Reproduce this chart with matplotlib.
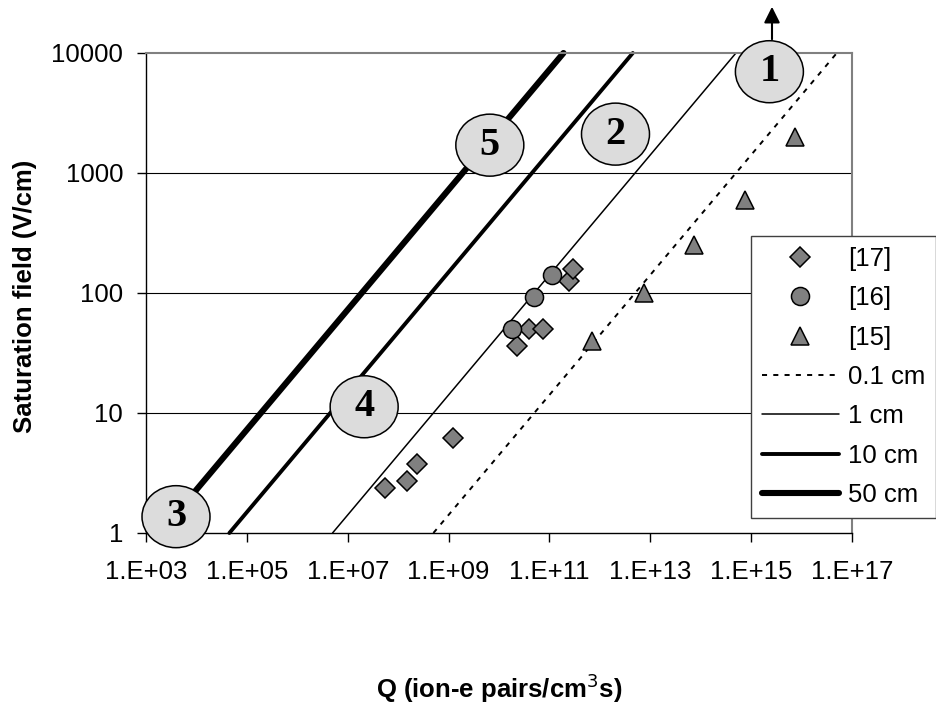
import matplotlib
matplotlib.use("Agg")
import matplotlib.pyplot as plt
from matplotlib.patches import Ellipse, FancyArrowPatch

plt.rcParams['font.family'] = ['Liberation Sans', 'DejaVu Sans']

# ---- data ----
ref17_Q = [5.5e7, 1.5e8, 2.4e8, 1.2e9, 2.3e10, 4.0e10, 7.5e10, 2.4e11, 3.0e11]
ref17_E = [2.35, 2.7, 3.75, 6.2, 36, 50, 50, 125, 157]
ref16_Q = [1.8e10, 5.0e10, 1.1e11]
ref16_E = [50, 93, 141]
ref15_Q = [7.0e11, 7.5e12, 7.5e13, 7.5e14, 7.5e15]
ref15_E = [40, 100, 250, 600, 2000]

gap_labels = ['0.1 cm', '1 cm', '10 cm', '50 cm']
gap_Q_start = [5.0e8, 5.0e6, 4.5e4, 1.9e3]      # Q where field = 1 V/cm
gap_Q_end = [5.0e16, 5.0e14, 4.5e12, 1.9e11]    # Q where field = 10000 V/cm
gap_E_ends = [1, 10000]

xtick_vals = [1e3, 1e5, 1e7, 1e9, 1e11, 1e13, 1e15, 1e17]
xtick_labels = ['1.E+03', '1.E+05', '1.E+07', '1.E+09', '1.E+11', '1.E+13', '1.E+15', '1.E+17']
ytick_vals = [1, 10, 100, 1000, 10000]
ytick_labels = ['1', '10', '100', '1000', '10000']

region_labels = ['1', '2', '3', '4', '5']

# ---- figure ----
W, H = 936, 712
fig = plt.figure(figsize=(W / 100, H / 100), dpi=100)
L, R, T, B = 146, 852, 53, 533
ax = fig.add_axes([L / W, (H - B) / H, (R - L) / W, (B - T) / H])
ax.set_xscale('log')
ax.set_yscale('log')
ax.set_xlim(1e3, 1e17)
ax.set_ylim(1, 10000)

# grid lines (horizontal only)
for yv in [10, 100, 1000]:
    ax.axhline(yv, color='black', lw=0.8, zorder=1)

line_styles = [
    dict(color='black', lw=1.4, linestyle=(0, (2.6, 3.2)), dash_capstyle='butt'),
    dict(color='black', lw=1.1, solid_capstyle='round'),
    dict(color='black', lw=2.8, solid_capstyle='round'),
    dict(color='black', lw=4.4, solid_capstyle='round'),
]
line_handles = []
for lab, q0, q1, st in zip(gap_labels, gap_Q_start, gap_Q_end, line_styles):
    h, = ax.plot([q0, q1], gap_E_ends, label=lab, zorder=2, **st)
    h.set_clip_on(False)
    line_handles.append(h)

mk = dict(markerfacecolor='#808080', markeredgecolor='black', markeredgewidth=1.1,
          linestyle='none', zorder=3)
h17, = ax.plot(ref17_Q, ref17_E, marker='D', markersize=9.8, label='[17]', **mk)
h16, = ax.plot(ref16_Q, ref16_E, marker='o', markersize=13, label='[16]', **mk)
h15, = ax.plot(ref15_Q, ref15_E, marker='^', markersize=13.5, label='[15]', **mk)

# axes styling
for s in ['top', 'right']:
    ax.spines[s].set_color('#808080')
    ax.spines[s].set_linewidth(1.5)
for s in ['left', 'bottom']:
    ax.spines[s].set_color('black')
    ax.spines[s].set_linewidth(1.0)

ax.set_xticks(xtick_vals)
ax.set_xticklabels(xtick_labels)
ax.set_yticks(ytick_vals)
ax.set_yticklabels(ytick_labels)
ax.minorticks_off()
ax.tick_params(axis='both', direction='out', length=6.5, width=1.0, labelsize=18.5, colors='black')
ax.tick_params(axis='y', pad=10)
ax.tick_params(axis='x', pad=13)

# region labels (ellipses)
ell_pos = [(0.883, 0.961), (0.665, 0.831), (0.0425, 0.034), (0.309, 0.263), (0.487, 0.808)]
ew, eh = 68 / (R - L), 62 / (B - T)
for lab, (cx, cy) in zip(region_labels, ell_pos):
    e = Ellipse((cx, cy), ew, eh, transform=ax.transAxes, facecolor='#dcdcdc',
                edgecolor='black', lw=1.1, zorder=5, clip_on=False)
    ax.add_patch(e)
    ax.text(cx, cy, lab, transform=ax.transAxes, ha='center', va='center',
            fontsize=29, fontweight='bold', family='Liberation Serif', zorder=6)

# arrow above label 1
fig.patches.append(FancyArrowPatch(
    (772 / W, (H - 42) / H), (772 / W, (H - 4) / H), transform=fig.transFigure,
    arrowstyle='-|>', mutation_scale=24, lw=1.5, color='black'))

# legend
leg = ax.legend(handles=[h17, h16, h15] + line_handles, loc='upper left',
                bbox_to_anchor=(751 / W, (H - 236) / H), bbox_transform=fig.transFigure,
                borderaxespad=0, fontsize=18.5, handlelength=3.0, handletextpad=0.35,
                labelspacing=0.6, borderpad=0.42, frameon=True, fancybox=False,
                framealpha=1, edgecolor='#404040', numpoints=1)
leg.get_frame().set_linewidth(1.0)
leg.set_zorder(10)

fig.text((L + R) / 2 / W, (H - 688) / H, 'Q (ion-e pairs/cm$^3$s)', ha='center', va='center',
         fontsize=18.5, fontweight='bold')
fig.text(25 / W, (H - 296) / H, 'Saturation field (V/cm)', ha='center', va='center',
         rotation=90, fontsize=18.5, fontweight='bold')

fig.savefig('out.png', dpi=100)
